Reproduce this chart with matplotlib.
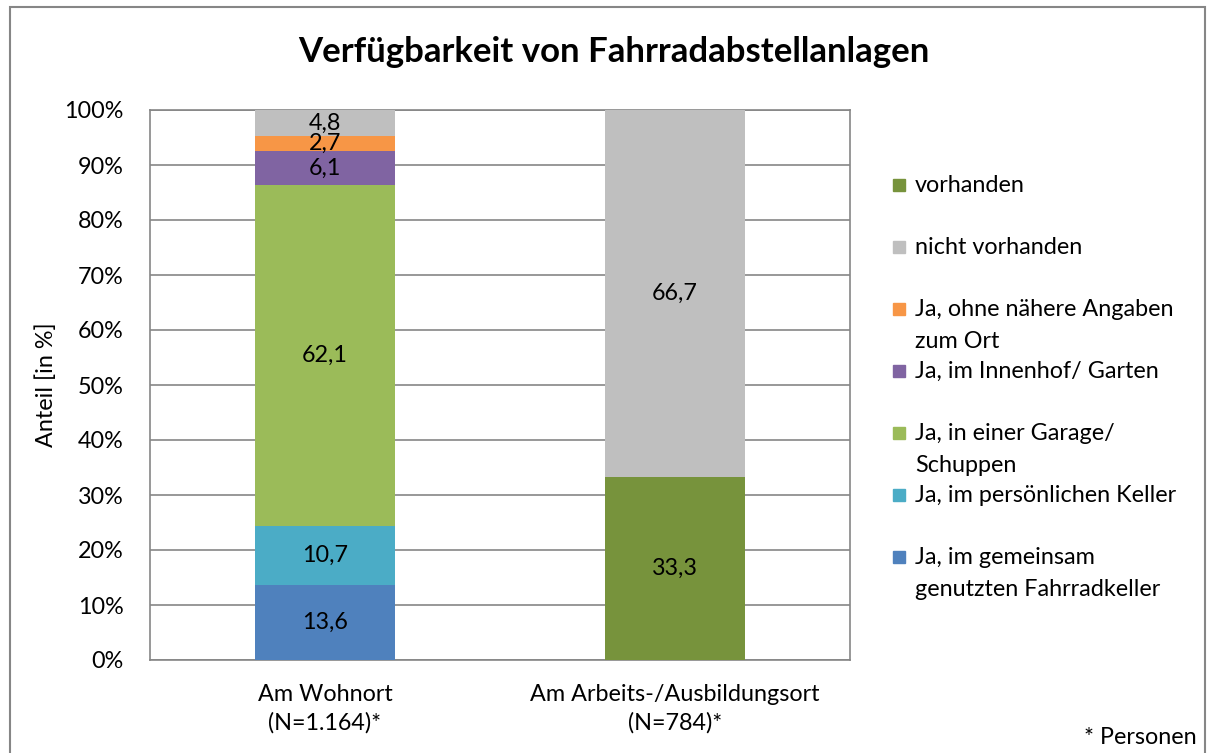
import matplotlib.pyplot as plt
from matplotlib.patches import Rectangle
import numpy as np

plt.rcParams['font.family'] = ['Lato', 'DejaVu Sans']

categories = ['Am Wohnort\n(N=1.164)*', 'Am Arbeits-/Ausbildungsort\n(N=784)*']
series = ['Ja, im gemeinsam\ngenutzten Fahrradkeller',
          'Ja, im persönlichen Keller',
          'Ja, in einer Garage/\nSchuppen',
          'Ja, im Innenhof/ Garten',
          'Ja, ohne nähere Angaben\nzum Ort',
          'nicht vorhanden',
          'vorhanden']
values = [
    [13.6, 0],
    [10.7, 0],
    [62.1, 0],
    [6.1, 0],
    [2.7, 0],
    [4.8, 66.7],
    [0, 33.3],
]
colors = ['#4F81BD', '#4BACC6', '#9BBB59', '#8064A2', '#F79646', '#BFBFBF', '#77933C']
# stacking order: vorhanden sits at the bottom of the second bar
stack_order = [6, 0, 1, 2, 3, 4, 5]

fs = 16.8

fig = plt.figure(figsize=(12.14, 7.53), dpi=100)
ax = fig.add_axes([150 / 1214, 1 - 660 / 753, 700 / 1214, 550 / 753])

x = np.arange(len(categories))
bottom = np.zeros(len(categories))
for i in stack_order:
    v = np.array(values[i])
    ax.bar(x, v, 0.4, bottom=bottom, color=colors[i], zorder=3)
    for xi, vi, bi in zip(x, v, bottom):
        if vi > 0:
            ax.text(xi, bi + vi / 2, f'{vi:.1f}'.replace('.', ','),
                    ha='center', va='center', fontsize=fs, zorder=4)
    bottom += v

ax.set_xlim(-0.5, 1.5)
ax.set_ylim(0, 100)
ax.set_yticks(np.arange(0, 101, 10))
ax.set_yticklabels([f'{t}%' for t in range(0, 101, 10)], fontsize=fs)
ax.set_xticks(x)
ax.set_xticklabels(categories, fontsize=fs, linespacing=1.45)
ax.tick_params(length=0)
ax.tick_params(axis='y', pad=19)
ax.tick_params(axis='x', pad=17)
ax.yaxis.grid(True, color='#868686', linewidth=1.2, zorder=0)
for s in ax.spines.values():
    s.set_color('#868686')
    s.set_linewidth(1.2)
ax.set_ylabel('Anteil [in %]', fontsize=fs, labelpad=5)

fig.text(614 / 1214, 1 - 52 / 753, 'Verfügbarkeit von Fahrradabstellanlagen',
         ha='center', va='center', fontsize=25, fontweight='bold')

# legend, drawn by hand to keep even spacing
legend_order = [6, 5, 4, 3, 2, 1, 0]
for k, i in enumerate(legend_order):
    y = 185 + 62 * k
    fig.patches.append(Rectangle((893 / 1214, 1 - (y + 6) / 753), 12 / 1214, 12 / 753,
                                 transform=fig.transFigure, color=colors[i]))
    fig.text(915 / 1214, 1 - (y - 10) / 753, series[i], ha='left', va='top',
             fontsize=fs, linespacing=1.62)

fig.text(1197 / 1214, 1 - 738 / 753, '* Personen', ha='right', va='center', fontsize=fs)

fig.patches.append(Rectangle((10 / 1214, -0.1), 1195 / 1214, 1 - 7 / 753 + 0.1,
                             transform=fig.transFigure, fill=False,
                             edgecolor='#868686', linewidth=1.5))

fig.savefig('out.png', dpi=100)
